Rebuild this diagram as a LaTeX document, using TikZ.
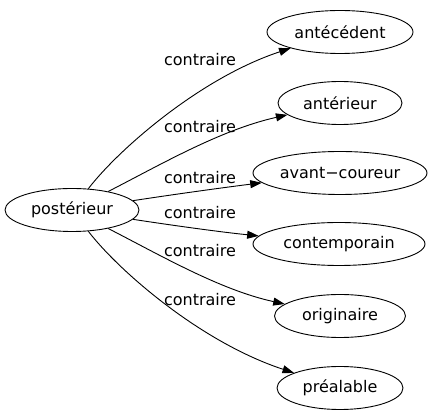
\documentclass[tikz,border=0pt]{standalone}
\usepackage{fontspec}
\setmainfont{DejaVu Sans}
\usetikzlibrary{shapes.geometric,arrows.meta}
\begin{document}
\begin{tikzpicture}[x=1pt,y=-1pt,
  every node/.style={font=\fontsize{16}{19}\selectfont},
  word/.style={ellipse,draw,line width=0.9pt,inner sep=0pt,minimum height=43pt},
  lbl/.style={inner sep=0pt},
  rel/.style={line width=0.9pt,-{Triangle[length=11.5pt,width=8pt]}}]
\useasboundingbox (0,0) rectangle (432,419);
\node[word,minimum width=134pt] (post) at (72,210) {postérieur};
\node[word,minimum width=146pt] (n1) at (340,32) {antécédent};
\node[word,minimum width=124pt] (n2) at (340,103) {antérieur};
\node[word,minimum width=174pt] (n3) at (340,173) {avant−coureur};
\node[word,minimum width=172pt] (n4) at (339,244) {contemporain};
\node[word,minimum width=131pt] (n5) at (340,316) {originaire};
\node[word,minimum width=126pt] (n6) at (340,388) {préalable};
\node[lbl] (l1) at (200,60) {contraire};
\node[lbl] (l2) at (200,127) {contraire};
\node[lbl] (l3) at (200,178) {contraire};
\node[lbl] (l4) at (200,213) {contraire};
\node[lbl] (l5) at (200,251) {contraire};
\node[lbl] (l6) at (200,300) {contraire};
\draw[rel] (post) .. controls (118,150) and (200,78) .. (n1);
\draw[rel] (post) .. controls (160,165) and (220,130) .. (n2);
\draw[rel] (post) .. controls (170,195) and (220,188) .. (n3);
\draw[rel] (post) .. controls (170,225) and (220,232) .. (n4);
\draw[rel] (post) .. controls (160,255) and (220,290) .. (n5);
\draw[rel] (post) .. controls (118,270) and (200,342) .. (n6);
\end{tikzpicture}
\end{document}
